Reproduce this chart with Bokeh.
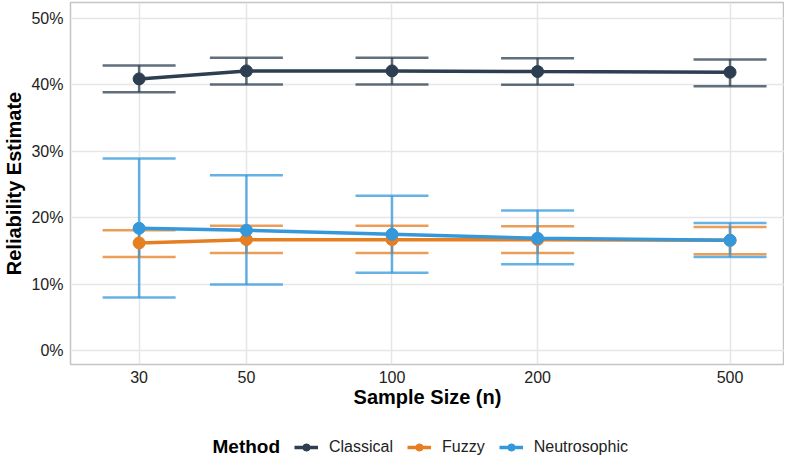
from bokeh.plotting import figure
from bokeh.layouts import column
from bokeh.models import (ColumnDataSource, Whisker, TeeHead, FixedTicker, NumeralTickFormatter,
                          Legend, LegendItem, Label, Range1d)
from bokeh.embed import file_html
from bokeh.resources import INLINE

sample_sizes = [30, 50, 100, 200, 500]

classical_est = [0.409, 0.421, 0.421, 0.420, 0.419]
classical_lo = [0.389, 0.4005, 0.4005, 0.400, 0.398]
classical_hi = [0.429, 0.441, 0.441, 0.440, 0.438]

fuzzy_est = [0.162, 0.167, 0.167, 0.167, 0.166]
fuzzy_lo = [0.141, 0.147, 0.147, 0.147, 0.145]
fuzzy_hi = [0.181, 0.188, 0.188, 0.187, 0.186]

neutro_est = [0.184, 0.181, 0.175, 0.169, 0.166]
neutro_lo = [0.080, 0.0995, 0.117, 0.130, 0.141]
neutro_hi = [0.289, 0.264, 0.233, 0.211, 0.192]

methods = ["Classical", "Fuzzy", "Neutrosophic"]
colors = ["#2C3E50", "#E67E22", "#3498DB"]

FONT = "Liberation Sans"

p = figure(width=784, height=416, x_axis_type="log", output_backend="svg",
           toolbar_location=None, x_range=Range1d(21.64, 648), y_range=Range1d(-0.021, 0.524),
           min_border_left=62, min_border_right=0, min_border_top=2, min_border_bottom=52)

p.outline_line_color = "#c4c4c4"
p.outline_line_width = 1.5
p.background_fill_color = "white"
p.border_fill_color = "white"

p.xaxis.ticker = FixedTicker(ticks=sample_sizes)
p.xgrid.ticker = FixedTicker(ticks=sample_sizes)
p.yaxis.ticker = FixedTicker(ticks=[0, 0.1, 0.2, 0.3, 0.4, 0.5])
p.ygrid.ticker = FixedTicker(ticks=[0, 0.1, 0.2, 0.3, 0.4, 0.5])
p.xaxis.formatter = NumeralTickFormatter(format="0")
p.yaxis.formatter = NumeralTickFormatter(format="0%")
for ax in (p.xaxis, p.yaxis):
    ax.axis_line_color = None
    ax.major_tick_line_color = None
    ax.minor_tick_line_color = None
    ax.major_tick_out = 0
    ax.major_tick_in = 0
    ax.minor_tick_out = 0
    ax.minor_tick_in = 0
    ax.major_label_text_font = FONT
    ax.major_label_text_font_size = "16px"
    ax.major_label_text_color = "#222222"
    ax.axis_label_text_font = FONT
    ax.axis_label_text_font_style = "bold"
    ax.axis_label_text_font_size = "20px"
    ax.axis_label_text_color = "#000000"
p.xaxis.axis_label = "Sample Size (n)"
p.yaxis.axis_label = "Reliability Estimate"
p.xaxis.major_label_standoff = 6
p.xaxis.axis_label_standoff = 0
p.yaxis.major_label_standoff = 7
p.yaxis.axis_label_standoff = 3

for g in (p.xgrid, p.ygrid):
    g.grid_line_color = "#e6e6e6"
    g.grid_line_width = 1.5
    g.minor_grid_line_color = None

series = [
    (classical_est, classical_lo, classical_hi),
    (fuzzy_est, fuzzy_lo, fuzzy_hi),
    (neutro_est, neutro_lo, neutro_hi),
]

sources = []
for (est, lo, hi), col in zip(series, colors):
    src = ColumnDataSource(dict(n=sample_sizes, est=est, lo=lo, hi=hi))
    sources.append(src)
    w = Whisker(source=src, base="n", lower="lo", upper="hi", dimension="height",
                line_color=col, line_alpha=0.75, line_width=2.5, level="underlay",
                upper_head=TeeHead(size=73, line_color=col, line_alpha=0.75, line_width=2.5),
                lower_head=TeeHead(size=73, line_color=col, line_alpha=0.75, line_width=2.5))
    p.add_layout(w)

for src, col in zip(sources, colors):
    p.line("n", "est", source=src, line_color=col, line_width=3.5)
for src, col in zip(sources, colors):
    p.scatter("n", "est", source=src, size=12, fill_color=col, line_color=col)

# legend strip (its ranges exclude the data, so only the legend shows)
lg = figure(width=784, height=41, output_backend="svg", toolbar_location=None,
            x_range=Range1d(0, 1), y_range=Range1d(0, 1),
            x_axis_location=None, y_axis_location=None,
            min_border_left=0, min_border_right=0, min_border_top=0, min_border_bottom=0)
lg.outline_line_color = None
lg.xgrid.visible = False
lg.ygrid.visible = False

items = []
for m, src, col in zip(methods, sources, colors):
    l = lg.line("n", "est", source=src, line_color=col, line_width=3.5)
    s = lg.scatter("n", "est", source=src, size=12, fill_color=col, line_color=col)
    items.append(LegendItem(label=m, renderers=[l, s]))

legend = Legend(items=items, orientation="horizontal", location=(224, 1),
                label_text_font=FONT, label_text_font_size="16px", label_text_color="#222222",
                glyph_width=24, glyph_height=18, label_standoff=11, spacing=14,
                padding=0, margin=0, border_line_color=None, background_fill_alpha=0)
lg.add_layout(legend, "center")

title = Label(x=142, y=11, x_units="screen", y_units="screen", text="Method",
              text_font=FONT, text_font_style="bold", text_font_size="19px",
              text_baseline="middle", text_align="left", text_color="#000000")
lg.add_layout(title)

layout = column(p, lg, spacing=0)
open("out.html", "w").write(file_html(layout, INLINE))
